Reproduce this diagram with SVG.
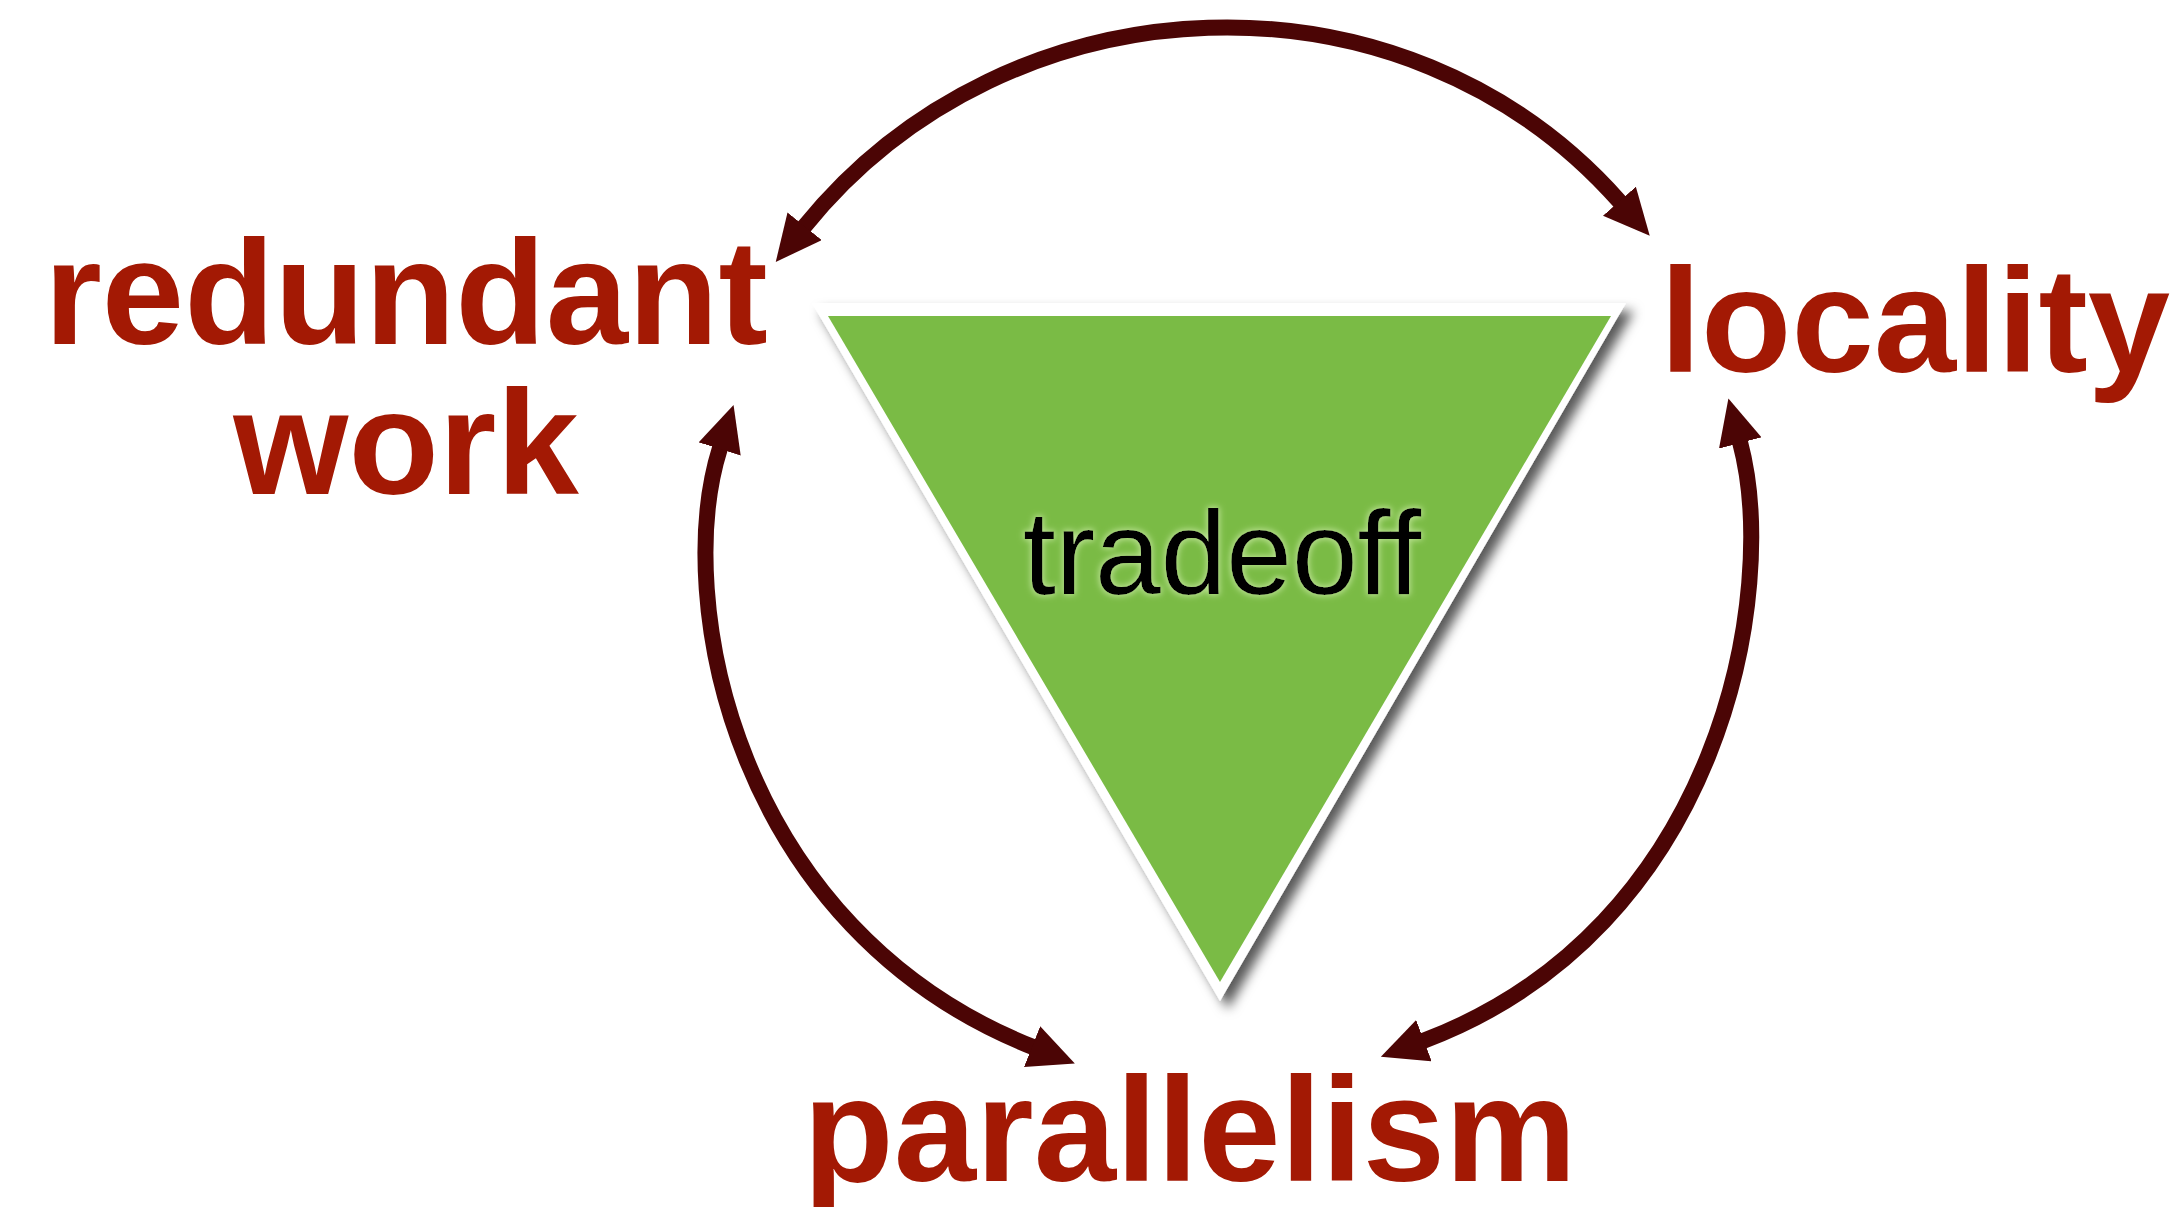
<svg xmlns="http://www.w3.org/2000/svg" width="2183" height="1207" viewBox="0 0 2183 1207">
  <style>
    .label { font-family: "Liberation Sans", Arial, Helvetica, sans-serif; font-weight: bold; font-size: 148px; fill: #A31904; text-anchor: middle; }
    .center { font-family: "Liberation Sans", Arial, Helvetica, sans-serif; font-size: 118px; fill: #000000; text-anchor: middle; }
    .conn { fill: none; stroke: #4B0505; stroke-width: 16; marker-start: url(#arrow); marker-end: url(#arrow); }
  </style>
  <defs>
    <marker id="arrow" viewBox="0 0 46 44" markerWidth="46" markerHeight="44" refX="1" refY="22" markerUnits="userSpaceOnUse" orient="auto-start-reverse">
      <path d="M0,0 L46,22 L0,44 Z" fill="#4B0505"/>
    </marker>
    <filter id="shadow" x="-20%" y="-20%" width="140%" height="140%">
      <feDropShadow dx="8" dy="8" stdDeviation="6" flood-color="#000000" flood-opacity="0.65"/>
    </filter>
    <filter id="glow" x="-10%" y="-20%" width="120%" height="140%">
      <feMorphology in="SourceAlpha" operator="dilate" radius="1" result="d"/>
      <feGaussianBlur in="d" stdDeviation="3" result="b"/>
      <feFlood flood-color="#C2E69A" flood-opacity="0.95"/>
      <feComposite in2="b" operator="in" result="g"/>
      <feMerge>
        <feMergeNode in="g"/>
        <feMergeNode in="SourceGraphic"/>
      </feMerge>
    </filter>
  </defs>
  <rect width="2183" height="1207" fill="#FFFFFF"/>

  <g id="node-tradeoff">
    <polygon points="812,303 1626,303 1220,1001" fill="#FFFFFF" filter="url(#shadow)"/>
    <polygon points="828,316 1611,316 1220,982" fill="#7ABB45"/>
    <text class="center" x="1222" y="594" filter="url(#glow)">tradeoff</text>
  </g>

  <g id="connectors">
    <path class="conn" d="M804,227 C1009,-27 1405,-42 1620,202"/>
    <path class="conn" d="M720,448 C672,600 735,929 1033,1047"/>
    <path class="conn" d="M1740,442 C1780,592 1721,929 1423,1041"/>
  </g>

  <g id="node-redundant-work">
    <text class="label" x="406" y="344">redundant</text>
    <text class="label" x="406" y="494">work</text>
  </g>
  <g id="node-locality">
    <text class="label" x="1915" y="372">locality</text>
  </g>
  <g id="node-parallelism">
    <text class="label" x="1190" y="1181">parallelism</text>
  </g>
</svg>
